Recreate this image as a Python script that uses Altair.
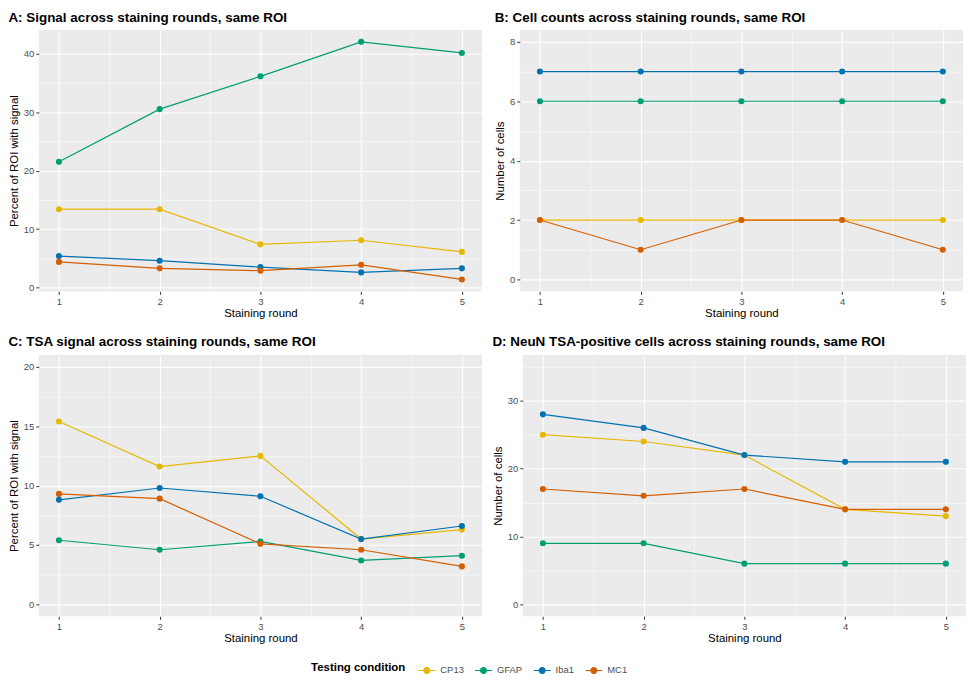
import altair as alt
import pandas as pd

rounds = [1, 2, 3, 4, 5]
conditions = ["CP13", "GFAP", "Iba1", "MC1"]
colors = ["#E7B800", "#009E73", "#0072B2", "#D55E00"]

# Panel A: percent of ROI with signal
a_cp13 = [13.4, 13.4, 7.4, 8.1, 6.1]
a_gfap = [21.5, 30.5, 36.1, 42.0, 40.1]
a_iba1 = [5.4, 4.6, 3.5, 2.6, 3.3]
a_mc1 = [4.4, 3.3, 2.9, 3.9, 1.4]

# Panel B: number of cells
b_cp13 = [2, 2, 2, 2, 2]
b_gfap = [6, 6, 6, 6, 6]
b_iba1 = [7, 7, 7, 7, 7]
b_mc1 = [2, 1, 2, 2, 1]

# Panel C: TSA percent of ROI with signal
c_cp13 = [15.4, 11.6, 12.5, 5.5, 6.3]
c_gfap = [5.4, 4.6, 5.3, 3.7, 4.1]
c_iba1 = [8.8, 9.8, 9.1, 5.5, 6.6]
c_mc1 = [9.3, 8.9, 5.1, 4.6, 3.2]

# Panel D: NeuN TSA-positive cells
d_cp13 = [25, 24, 22, 14, 13]
d_gfap = [9, 9, 6, 6, 6]
d_iba1 = [28, 26, 22, 21, 21]
d_mc1 = [17, 16, 17, 14, 14]

titles = [
    "A: Signal across staining rounds, same ROI",
    "B: Cell counts across staining rounds, same ROI",
    "C: TSA signal across staining rounds, same ROI",
    "D: NeuN TSA-positive cells across staining rounds, same ROI",
]


def make_df(series):
    rows = []
    for cond, vals in zip(conditions, series):
        for r, v in zip(rounds, vals):
            rows.append({"round": r, "condition": cond, "value": v})
    return pd.DataFrame(rows)


def cond_val(test, yes, no):
    return {"condition": {"test": test, "value": yes}, "value": no}


W, H = 446, 263


def panel(series, title, ytitle, ydomain, yvals, major_step):
    df = make_df(series)
    xvals = [1, 1.5, 2, 2.5, 3, 3.5, 4, 4.5, 5]
    xmajor = "abs(datum.value - round(datum.value)) < 0.001"
    ymajor = f"abs(datum.value / {major_step} - round(datum.value / {major_step})) < 0.001"
    x = alt.X(
        "round:Q",
        title="Staining round",
        scale=alt.Scale(domain=[0.8, 5.2], nice=False, zero=False),
        axis=alt.Axis(
            values=xvals,
            labelExpr=f"{xmajor} ? format(datum.value, 'd') : ''",
            tickOpacity=cond_val(xmajor, 1, 0),
            gridWidth=cond_val(xmajor, 1.1, 0.5),
        ),
    )
    y = alt.Y(
        "value:Q",
        title=ytitle,
        scale=alt.Scale(domain=ydomain, nice=False, zero=False),
        axis=alt.Axis(
            values=yvals,
            labelExpr=f"{ymajor} ? format(datum.value, 'd') : ''",
            tickOpacity=cond_val(ymajor, 1, 0),
            gridWidth=cond_val(ymajor, 1.1, 0.5),
        ),
    )
    color = alt.Color(
        "condition:N",
        title="Testing condition",
        scale=alt.Scale(domain=conditions, range=colors),
    )
    base = alt.Chart(df).encode(x=x, y=y, color=color)
    line = base.mark_line(strokeWidth=1.2)
    pts = base.mark_point(filled=True, size=38, opacity=1)
    return (line + pts).properties(
        width=W,
        height=H,
        title=alt.TitleParams(title, anchor="start", fontSize=13.5, fontWeight="bold",
                              font="Liberation Sans", color="#000000", offset=6),
    )


pA = panel([a_cp13, a_gfap, a_iba1, a_mc1], titles[0], "Percent of ROI with signal",
           [-0.63, 44.03], [0, 5, 10, 15, 20, 25, 30, 35, 40], 10)
pB = panel([b_cp13, b_gfap, b_iba1, b_mc1], titles[1], "Number of cells",
           [-0.4, 8.4], [0, 1, 2, 3, 4, 5, 6, 7, 8], 2)
pC = panel([c_cp13, c_gfap, c_iba1, c_mc1], titles[2], "Percent of ROI with signal",
           [-1, 21], [0, 2.5, 5, 7.5, 10, 12.5, 15, 17.5, 20], 5)
pD = panel([d_cp13, d_gfap, d_iba1, d_mc1], titles[3], "Number of cells",
           [-1.75, 36.75], [0, 5, 10, 15, 20, 25, 30, 35], 10)

chart = alt.vconcat(
    alt.hconcat(pA, pB, spacing=12),
    alt.hconcat(pC, pD, spacing=10),
    spacing=16,
).properties(padding=0).configure_view(
    fill="#EBEBEB", stroke=None
).configure_axis(
    domain=False,
    gridColor="#FFFFFF",
    tickColor="#333333",
    tickSize=3,
    labelColor="#4D4D4D",
    labelFont="Liberation Sans",
    labelFontSize=9.5,
    labelPadding=2,
    titleFont="Liberation Sans",
    titleFontSize=11.5,
    titleFontWeight="normal",
    titleColor="#000000",
).configure_axisX(
    titlePadding=2,
).configure_axisY(
    titlePadding=4,
).configure_legend(
    orient="none",
    legendX=274,
    legendY=635,
    direction="horizontal",
    titleOrient="left",
    titlePadding=12,
    titleFont="Liberation Sans",
    titleFontSize=11.5,
    titleFontWeight="bold",
    titleColor="#000000",
    labelFont="Liberation Sans",
    labelFontSize=9.5,
    labelColor="#4D4D4D",
    symbolType="M-1,0L-0.35,0M0.35,0L1,0M-0.35,0A0.35,0.35 0 1,1 0.35,0A0.35,0.35 0 1,1 -0.35,0Z",
    symbolSize=289,
    symbolStrokeWidth=1.2,
    columnPadding=8,
)

chart.save("out.html", embed_options={"renderer": "svg", "actions": False})
